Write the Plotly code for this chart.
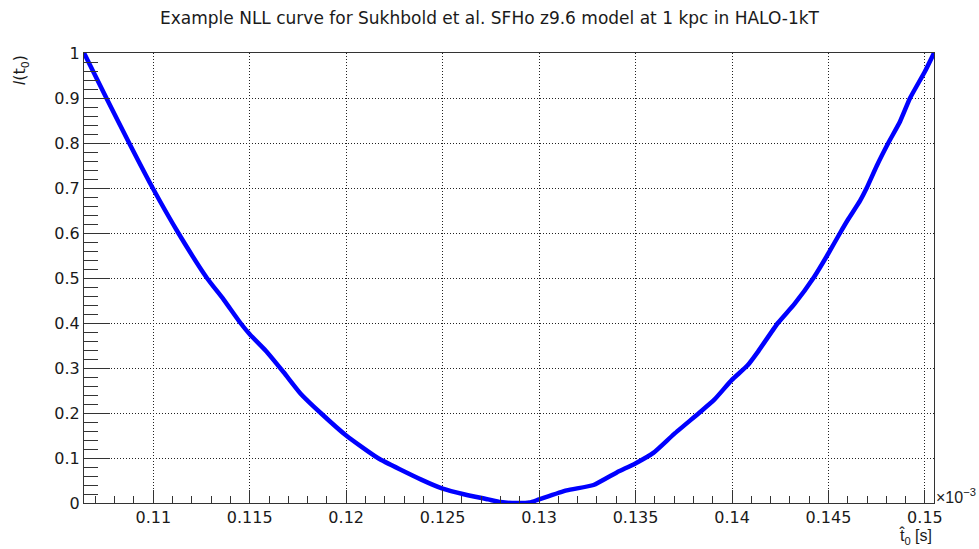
import plotly.graph_objects as go

# t0 values in units of 1e-3 s (axis shows x10^-3)
t0 = [0.10641, 0.10757, 0.10875, 0.10997, 0.1113, 0.11278, 0.11365,
      0.11452, 0.115, 0.11582, 0.11677, 0.11764, 0.11868, 0.12, 0.12164, 0.12389,
      0.125, 0.12615, 0.12736, 0.128, 0.1286, 0.1295, 0.13, 0.13143, 0.13282,
      0.13403, 0.13499, 0.13594, 0.13699, 0.13829, 0.13907, 0.13998, 0.14081,
      0.14134, 0.14238, 0.14325, 0.14422, 0.145, 0.1456, 0.14603, 0.14664,
      0.14698, 0.1475, 0.1481, 0.14871, 0.14923, 0.15, 0.15047]
nll = [1.0, 0.9, 0.8, 0.7, 0.6, 0.5, 0.452,
       0.4, 0.375, 0.339, 0.29, 0.243, 0.2, 0.15, 0.1, 0.052,
       0.032, 0.019, 0.008, 0.002, 0.0, 0.001, 0.008, 0.028, 0.040,
       0.068, 0.088, 0.112, 0.153, 0.2, 0.229, 0.273, 0.306,
       0.336, 0.4, 0.443, 0.5, 0.555, 0.6, 0.631, 0.672,
       0.7, 0.749, 0.8, 0.848, 0.9, 0.959, 1.0]

title = "Example NLL curve for Sukhbold et al. SFHo z9.6 model at 1 kpc in HALO-1kT"
x_range = [0.10641, 0.15047]
y_range = [0, 1]

font_family = "DejaVu Sans, Liberation Sans, Arial, sans-serif"
narrow_family = "Liberation Sans, Arial, sans-serif"
axcol = "#333333"
txtcol = "#1a1a1a"

fig = go.Figure()
fig.add_trace(go.Scatter(x=t0, y=nll, mode="lines",
                         line=dict(color="#0000ff", width=4.5, shape="spline", smoothing=0.5),
                         showlegend=False))

fig.update_layout(
    width=979, height=549,
    margin=dict(l=84, r=45, t=53, b=46),
    paper_bgcolor="white", plot_bgcolor="white",
    font=dict(family=font_family, size=16, color=txtcol),
    title=dict(text=title, x=0.5, xref="container", xanchor="center",
               y=1 - 18 / 549, yref="container", yanchor="middle",
               font=dict(family=font_family, size=17, color=txtcol)),
)

grid_dash = "1px,2px"

fig.update_xaxes(
    range=x_range, tick0=0.11, dtick=0.005,
    ticks="inside", ticklen=13, tickwidth=1, tickcolor=axcol,
    minor=dict(ticks="inside", ticklen=7, dtick=0.001, tick0=0.11, tickcolor=axcol,
               showgrid=False),
    showline=True, linecolor=axcol, linewidth=1, mirror=True,
    showgrid=True, gridcolor="#222222", griddash=grid_dash, gridwidth=1,
    zeroline=False, tickfont=dict(size=16),
)
fig.update_yaxes(
    range=y_range, tick0=0, dtick=0.1,
    ticks="inside", ticklen=26, tickwidth=1, tickcolor=axcol,
    minor=dict(ticks="inside", ticklen=14, dtick=0.02, tick0=0, tickcolor=axcol,
               showgrid=False),
    showline=True, linecolor=axcol, linewidth=1, mirror=True,
    showgrid=True, gridcolor="#222222", griddash=grid_dash, gridwidth=1,
    zeroline=False, tickfont=dict(size=16),
)

fig.add_annotation(text="<i>l</i>(t<sub>0</sub>)", xref="paper", yref="paper",
                   x=-0.075, y=1.0, xanchor="center", yanchor="top",
                   textangle=-90, showarrow=False, font=dict(size=16))
fig.add_annotation(text="t\u0302<sub>0</sub> [s]", xref="paper", yref="paper",
                   x=1.0, y=-0.047, xanchor="right", yanchor="top",
                   showarrow=False, font=dict(family=narrow_family, size=16))
fig.add_annotation(text="\u00d710<sup>\u22123</sup>", xref="paper", yref="paper",
                   x=1.0, y=0.0, xanchor="left", yanchor="middle", xshift=0, yshift=7,
                   showarrow=False, font=dict(family=narrow_family, size=16))

fig.write_html("out.html")
